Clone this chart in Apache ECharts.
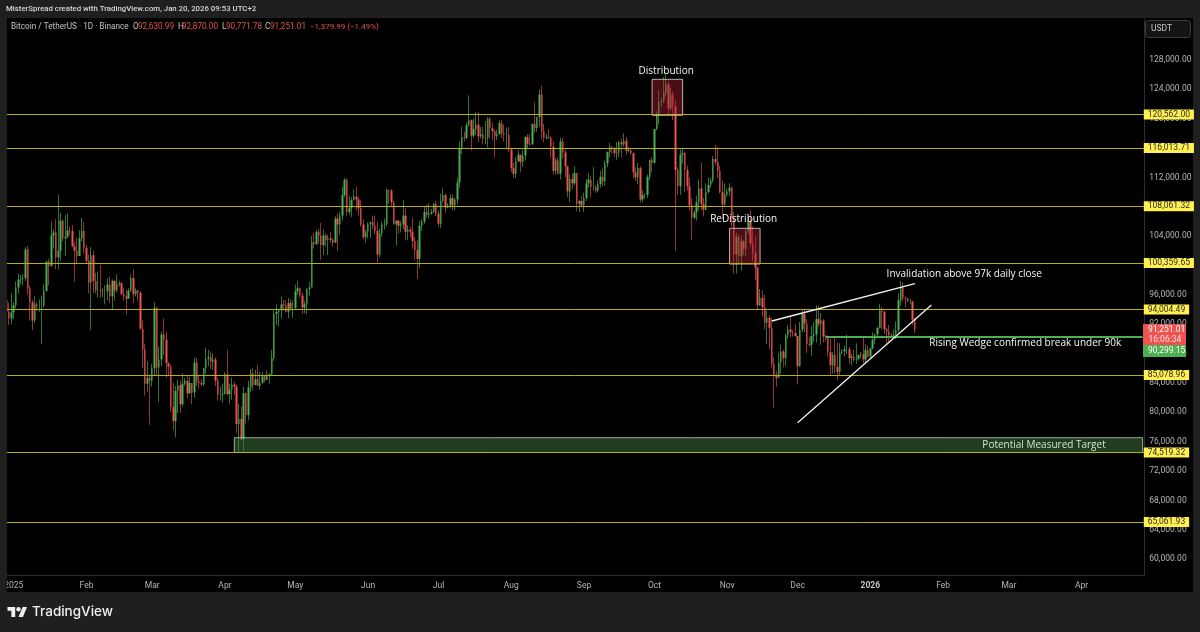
<!DOCTYPE html>
<html><head><meta charset="utf-8"><style>html,body{margin:0;padding:0;background:#1f1f1f}#c{width:1200px;height:632px}</style>
<script src="https://cdn.jsdelivr.net/npm/echarts@6/dist/echarts.min.js"></script></head><body><div id="c"></div><script>
const firstDay = Date.UTC(2024, 11, 29);
const dayCount = 485;
// daily candles, thousands of USDT, Dec 29 2024 -> Jan 20 2026
const opens = [95.3,93.7,92.8,
93.6,94.6,97.0,98.1,98.2,98.3,102.2,96.9,95.0,92.5,94.7,94.5,94.5,94.5,96.5,100.5,99.9,104.1,104.5,101.1,102.0,106.1,103.7,103.9,104.8,104.7,102.6,102.0,101.3,103.7,104.7,
102.4,100.6,97.7,101.4,97.9,96.6,96.6,96.5,96.5,96.5,97.4,95.8,97.9,96.6,97.5,97.6,96.1,95.8,95.5,96.6,98.3,96.1,96.6,96.3,91.4,88.6,83.9,84.7,
84.3,86.0,94.2,86.1,87.2,90.6,89.9,86.7,86.2,80.7,78.8,82.9,83.7,81.1,83.9,84.3,82.6,84.0,82.7,86.8,84.2,84.0,83.8,86.0,87.3,87.5,86.9,87.2,84.3,82.4,82.4,
82.5,85.2,82.5,83.1,83.8,83.5,78.4,79.1,76.3,82.6,79.6,83.4,85.3,83.7,84.5,83.6,84.0,84.9,84.4,85.0,85.2,87.4,93.4,93.7,93.9,94.7,94.6,93.7,94.9,94.2,
94.2,96.5,96.9,95.9,94.3,94.7,96.8,97.0,103.2,102.9,104.6,104.1,102.8,104.1,103.5,103.7,103.5,103.1,106.4,105.6,106.8,109.6,111.7,107.3,107.8,108.9,109.4,109.0,107.8,105.6,103.9,
104.6,105.7,105.9,105.4,104.7,101.5,104.4,105.6,105.7,110.3,110.2,108.6,105.6,106.1,105.4,105.6,106.8,104.6,104.9,104.6,103.3,102.1,100.9,105.4,106.0,107.3,106.9,107.1,107.3,108.4,
107.1,105.7,108.8,109.6,107.9,108.2,109.2,108.2,109.0,111.3,116.0,117.5,117.4,119.1,119.8,117.7,118.6,119.2,117.6,117.9,117.3,117.4,120.0,118.7,118.3,117.6,117.9,119.4,118.0,117.8,117.8,
115.8,113.3,112.5,114.2,115.1,114.1,115.0,117.5,116.6,116.5,119.3,118.7,120.2,123.3,118.3,117.4,117.5,117.4,116.2,112.9,114.3,112.5,116.9,115.4,113.5,110.1,111.8,111.2,112.6,108.4,108.8,
108.2,109.2,111.2,111.7,110.7,110.7,110.2,111.1,112.1,111.5,113.9,115.5,116.1,115.9,115.3,115.4,116.8,116.5,117.0,115.6,115.7,115.3,112.7,112.0,113.3,109.0,109.6,109.6,112.1,114.4,
114.0,118.6,120.6,122.3,122.4,123.5,124.7,121.4,123.3,121.7,113.0,110.8,115.1,115.3,113.0,110.8,108.2,106.5,107.2,108.6,110.5,108.4,107.6,110.0,111.0,111.6,114.5,114.1,112.9,110.0,108.3,
109.6,110.1,110.6,106.5,101.5,103.9,101.3,103.3,102.3,104.7,106.0,103.0,101.7,99.7,94.6,95.6,94.3,92.2,92.9,91.5,86.6,85.1,84.7,86.8,88.3,87.4,90.5,91.3,90.9,90.8,
90.4,86.3,91.3,93.4,92.1,89.3,89.2,90.4,90.6,92.7,92.0,92.5,90.3,90.2,88.2,86.4,87.8,86.2,85.5,88.1,88.3,88.6,88.6,87.4,87.6,87.2,87.3,87.8,87.9,87.2,88.5,
87.6,88.7,89.9,90.6,91.5,93.9,93.7,91.3,91.0,90.5,90.4,90.6,91.2,95.3,97.0,95.6,95.5,95.1,95.1,92.631];
const highs = [95.4,94.9,96.2,
95.0,97.8,98.9,98.7,98.8,102.5,102.7,97.3,95.3,95.8,95.0,95.4,95.9,97.4,100.7,100.9,106.0,104.9,106.3,109.6,107.2,106.3,106.9,107.1,105.3,105.5,103.2,103.8,104.8,106.5,106.0,
102.8,101.5,102.5,102.0,99.0,99.2,100.1,96.9,97.3,98.3,98.5,98.1,98.0,98.8,97.9,97.7,97.0,96.7,96.9,98.8,99.5,96.9,96.7,96.5,92.5,89.3,87.0,85.1,
86.6,95.0,94.4,88.9,91.0,92.8,91.0,86.8,86.5,84.0,83.6,84.4,84.3,85.3,84.7,85.0,84.8,84.0,87.5,87.4,85.0,84.5,86.1,88.8,88.5,88.3,88.0,87.5,84.7,83.5,83.9,
85.5,88.5,83.9,84.7,84.2,83.8,81.2,80.8,83.5,82.7,84.3,85.9,86.1,85.8,86.5,85.5,85.5,85.1,85.7,85.3,88.5,93.9,94.7,94.0,95.8,95.3,95.3,95.6,95.4,95.2,
97.4,97.9,97.0,96.3,95.2,96.9,97.7,104.0,104.4,104.8,105.0,105.8,104.9,104.4,104.2,104.6,103.7,106.7,107.1,107.3,110.7,111.9,111.9,109.5,109.3,110.4,110.7,109.3,108.9,106.3,104.9,
105.9,106.0,106.8,106.8,105.9,105.0,106.0,106.4,110.5,110.4,110.4,108.8,106.2,106.2,106.1,108.9,107.8,105.5,105.3,106.5,103.9,103.4,106.1,106.3,108.1,108.3,108.5,107.7,108.5,108.8,
107.5,109.8,110.5,109.8,108.5,109.7,109.7,109.2,111.9,116.9,118.9,118.2,119.5,123.2,119.9,120.0,120.9,120.9,118.9,118.9,119.7,120.2,120.2,119.5,118.5,118.5,119.8,119.8,119.2,118.8,118.9,
116.0,114.0,114.8,115.7,115.1,115.7,117.6,117.9,117.9,119.3,122.3,120.3,124.0,124.5,119.3,117.9,118.6,117.6,117.0,114.6,114.8,117.4,117.4,115.8,113.6,112.4,112.6,113.5,112.6,108.9,109.5,
109.9,111.8,112.6,112.2,113.4,111.0,111.6,112.9,113.2,114.3,115.5,116.7,116.3,116.1,116.8,117.0,117.3,118.0,117.5,116.1,116.0,115.4,113.4,114.0,113.5,110.3,109.8,112.4,114.4,114.8,
118.6,121.0,123.9,122.9,125.7,126.2,125.1,124.2,123.7,122.5,113.4,115.8,116.0,115.5,113.6,112.0,109.2,107.5,109.5,111.7,114.0,109.2,111.2,112.0,111.9,114.9,116.4,116.1,113.6,111.6,111.2,
110.5,111.2,110.8,107.3,104.5,104.2,104.1,103.5,105.0,106.7,107.5,105.3,104.1,99.8,96.8,96.6,96.0,93.8,93.2,92.8,87.5,85.6,88.1,89.2,88.5,90.7,91.9,93.1,91.2,92.0,
90.4,92.3,94.1,94.1,92.7,90.3,91.8,92.3,94.6,94.5,93.5,92.7,90.6,90.5,90.0,88.2,90.4,89.5,89.4,88.6,89.1,90.6,88.9,88.0,88.5,89.4,87.9,88.2,90.3,89.3,89.1,
88.8,90.9,90.7,91.7,94.8,94.4,93.8,91.5,91.9,90.8,91.3,92.4,96.2,97.9,97.7,95.8,95.6,95.5,95.2,92.87];
const lows = [93.0,91.9,92.0,
92.7,94.2,96.2,97.5,97.3,97.9,96.1,92.5,91.2,92.2,93.8,93.7,89.3,94.3,96.5,97.3,99.9,102.3,99.5,99.5,100.7,103.3,101.3,103.7,104.1,102.5,97.8,100.3,101.3,103.3,101.6,
100.3,96.2,91.2,96.2,96.2,95.7,95.6,95.7,94.7,95.3,94.9,94.1,95.2,96.3,97.1,96.0,95.2,93.3,95.5,96.4,94.9,95.8,95.2,91.2,86.0,82.3,82.8,78.3,
83.5,85.0,85.1,81.4,86.3,87.8,84.7,85.0,80.0,77.5,76.6,79.9,79.9,80.8,83.6,81.9,82.5,81.1,82.0,83.6,83.2,83.6,83.6,85.3,86.3,85.9,85.8,83.6,81.6,81.6,81.3,
82.4,82.3,81.2,81.7,82.4,77.2,74.5,76.2,74.6,78.5,78.9,82.8,83.0,83.7,83.6,83.1,83.9,84.1,84.4,83.9,85.1,87.0,91.9,91.7,92.8,93.9,93.6,92.8,93.9,92.9,
94.1,96.0,95.6,93.4,93.5,93.4,95.9,97.0,102.3,102.8,103.0,100.8,101.4,102.6,101.4,103.1,102.6,103.1,102.0,104.2,106.1,109.3,106.8,106.9,106.6,108.9,107.5,106.8,105.3,103.6,103.1,
103.7,103.7,105.0,104.2,100.4,101.1,103.9,104.9,105.3,108.4,108.1,105.7,102.7,104.3,104.5,105.0,103.4,103.5,103.9,102.3,100.8,98.2,99.6,104.7,105.7,106.6,106.4,106.9,107.2,106.7,
105.2,105.1,108.6,107.2,107.8,107.8,107.5,107.5,108.3,110.6,115.2,116.9,117.2,118.9,115.7,117.4,117.8,116.8,117.3,116.5,116.5,116.1,117.3,117.1,114.7,117.1,117.8,117.4,116.9,115.8,115.5,
112.7,112.0,111.9,114.1,112.7,113.4,114.3,115.9,116.3,116.5,118.1,118.2,118.9,117.2,116.8,117.2,117.2,114.7,112.4,112.4,112.4,111.7,114.6,112.0,109.3,108.7,110.4,110.9,107.4,107.3,108.1,
107.3,108.8,110.6,109.3,110.2,109.9,110.0,110.6,110.8,110.9,113.4,114.7,115.2,114.8,114.4,114.8,114.7,116.2,115.1,115.4,115.1,111.9,111.5,111.1,108.6,108.6,109.1,109.2,111.6,112.7,
113.9,118.4,119.2,121.6,122.1,123.1,120.6,121.1,119.8,102.0,109.6,109.6,113.9,110.0,110.2,107.5,103.5,106.3,106.1,107.5,107.5,106.7,107.5,109.8,110.6,111.3,113.7,111.9,109.8,106.3,108.0,
109.4,109.5,105.3,98.9,98.9,100.3,99.3,101.4,101.3,104.3,102.5,100.6,98.0,94.0,94.5,93.0,91.3,89.3,88.6,86.1,80.6,83.5,84.7,85.3,86.1,86.3,90.0,90.2,90.3,90.3,
83.8,86.2,90.9,90.9,88.1,88.9,87.7,89.6,89.5,91.6,89.2,89.5,89.8,87.6,85.1,85.3,85.3,84.4,85.1,87.9,87.6,87.9,86.6,86.4,86.9,86.6,87.1,87.3,86.7,86.8,87.5,
87.4,88.6,89.3,90.4,91.4,91.3,90.7,89.2,89.6,90.3,90.1,90.0,90.9,94.5,95.1,94.3,95.0,94.7,91.9,90.77];
const closes = [93.7,92.8,93.6,
94.6,97.0,98.1,98.2,98.3,102.2,96.9,95.0,92.5,94.7,94.5,94.5,94.5,96.5,100.5,99.9,104.1,104.5,101.1,102.0,106.1,103.7,103.9,104.8,104.7,102.6,102.0,101.3,103.7,104.7,102.4,
100.6,97.7,101.4,97.9,96.6,96.6,96.5,96.5,96.5,97.4,95.8,97.9,96.6,97.5,97.6,96.1,95.8,95.5,96.6,98.3,96.1,96.6,96.3,91.4,88.6,83.9,84.7,84.3,
86.0,94.2,86.1,87.2,90.6,89.9,86.7,86.2,80.7,78.8,82.9,83.7,81.1,83.9,84.3,82.6,84.0,82.7,86.8,84.2,84.0,83.8,86.0,87.3,87.5,86.9,87.2,84.3,82.4,82.4,82.5,
85.2,82.5,83.1,83.8,83.5,78.4,79.1,76.3,82.6,79.6,83.4,85.3,83.7,84.5,83.6,84.0,84.9,84.4,85.0,85.2,87.4,93.4,93.7,93.9,94.7,94.6,93.7,94.9,94.2,94.2,
96.5,96.9,95.9,94.3,94.7,96.8,97.0,103.2,102.9,104.6,104.1,102.8,104.1,103.5,103.7,103.5,103.1,106.4,105.6,106.8,109.6,111.7,107.3,107.8,108.9,109.4,109.0,107.8,105.6,103.9,104.6,
105.7,105.9,105.4,104.7,101.5,104.4,105.6,105.7,110.3,110.2,108.6,105.6,106.1,105.4,105.6,106.8,104.6,104.9,104.6,103.3,102.1,100.9,105.4,106.0,107.3,106.9,107.1,107.3,108.4,107.1,
105.7,108.8,109.6,107.9,108.2,109.2,108.2,109.0,111.3,116.0,117.5,117.4,119.1,119.8,117.7,118.6,119.2,117.6,117.9,117.3,117.4,120.0,118.7,118.3,117.6,117.9,119.4,118.0,117.8,117.8,115.8,
113.3,112.5,114.2,115.1,114.1,115.0,117.5,116.6,116.5,119.3,118.7,120.2,123.3,118.3,117.4,117.5,117.4,116.2,112.9,114.3,112.5,116.9,115.4,113.5,110.1,111.8,111.2,112.6,108.4,108.8,108.2,
109.2,111.2,111.7,110.7,110.7,110.2,111.1,112.1,111.5,113.9,115.5,116.1,115.9,115.3,115.4,116.8,116.5,117.0,115.6,115.7,115.3,112.7,112.0,113.3,109.0,109.6,109.6,112.1,114.4,114.0,
118.6,120.6,122.3,122.4,123.5,124.7,121.4,123.3,121.7,113.0,110.8,115.1,115.3,113.0,110.8,108.2,106.5,107.2,108.6,110.5,108.4,107.6,110.0,111.0,111.6,114.5,114.1,112.9,110.0,108.3,109.6,
110.1,110.6,106.5,101.5,103.9,101.3,103.3,102.3,104.7,106.0,103.0,101.7,99.7,94.6,95.6,94.3,92.2,92.9,91.5,86.6,85.1,84.7,86.8,88.3,87.4,90.5,91.3,90.9,90.8,90.4,
86.3,91.3,93.4,92.1,89.3,89.2,90.4,90.6,92.7,92.0,92.5,90.3,90.2,88.2,86.4,87.8,86.2,85.5,88.1,88.3,88.6,88.6,87.4,87.6,87.2,87.3,87.8,87.9,87.2,88.5,87.6,
88.7,89.9,90.6,91.5,93.9,93.7,91.3,91.0,90.5,90.4,90.6,91.2,95.3,97.0,95.6,95.5,95.1,95.1,92.6,91.251];
const levels = [120562.00,116013.71,108061.32,100359.65,94004.49,85078.96,74519.32,65061.93];
const supportLevel = 90299.15;
const priceTicks = [60000,64000,68000,72000,76000,80000,84000,88000,92000,96000,100000,104000,108000,112000,116000,120000,124000,128000];
const monthTicks = {'2025-01-01':'2025','2025-02-01':'Feb','2025-03-01':'Mar','2025-04-01':'Apr','2025-05-01':'May','2025-06-01':'Jun','2025-07-01':'Jul','2025-08-01':'Aug','2025-09-01':'Sep','2025-10-01':'Oct','2025-11-01':'Nov','2025-12-01':'Dec','2026-01-01':'2026','2026-02-01':'Feb','2026-03-01':'Mar','2026-04-01':'Apr'};

const categories = [];
for (let i = 0; i < dayCount; i++) categories.push(new Date(firstDay + i * 864e5).toISOString().slice(0, 10));
const lastDay = categories[categories.length - 1];
const fmt = v => v.toLocaleString('en-US', {minimumFractionDigits: 2, maximumFractionDigits: 2});
const fullData = opens.map((o, i) => [o * 1000, closes[i] * 1000, lows[i] * 1000, highs[i] * 1000]);
const bodyData = opens.map((o, i) => [o * 1000, closes[i] * 1000, Math.min(o, closes[i]) * 1000, Math.max(o, closes[i]) * 1000]);

const FONT = 'Roboto';
const ANN = 'Open Sans';
const note = (text, date, value, color) => ({coord: [date, value], symbolSize: 0, label: {show: true, position: 'inside', formatter: text, color: color || '#f6f6f6', fontFamily: ANN, fontSize: 10, fontWeight: 500}});
const zoneBorder = 'rgba(214,205,205,0.85)';
const distStyle = {color: 'rgba(178,34,52,0.42)', borderColor: zoneBorder, borderWidth: 1};

const chart = echarts.init(document.getElementById('c'), null, {renderer: 'canvas', width: 1200, height: 632});
const txt = (x, y, text, color, size, family, extra) => Object.assign({type: 'text', x, y, z: 20, silent: true, style: Object.assign({text, fill: color, fontSize: size, fontFamily: family || FONT, verticalAlign: 'middle'}, extra || {})});
const red = '#e0524f';
const logoT = {x: 7.5, y: 604.8, scaleX: 0.55, scaleY: 0.55, z: 20, silent: true};
chart.setOption({
  animation: false,
  backgroundColor: '#1f1f1f',
  grid: {left: 5.5, top: 19, width: 1138.3, height: 556, show: true, backgroundColor: '#000', borderWidth: 0},
  xAxis: {type: 'category', data: categories, boundaryGap: true,
    axisLine: {show: true, lineStyle: {color: '#2a2d36'}}, axisTick: {show: false}, splitLine: {show: false},
    axisLabel: {interval: (i, v) => !!monthTicks[v], formatter: v => v === '2026-01-01' ? '{b|2026}' : (monthTicks[v] || ''), rich: {b: {fontWeight: 'bold', color: '#c8c8c8', fontFamily: FONT, fontSize: 8.5}}, color: '#b5b5b5', fontFamily: FONT, fontSize: 8.5, margin: 6, hideOverlap: false}},
  yAxis: {type: 'value', position: 'right', min: 57837, max: 133586, scale: true,
    axisLine: {show: true, lineStyle: {color: '#2a2d36'}}, axisTick: {show: false}, splitLine: {show: false},
    axisLabel: {customValues: priceTicks, formatter: v => fmt(v), color: '#b5b5b5', fontFamily: FONT, fontSize: 8.5, margin: 5.5}},
  series: [
    {type: 'candlestick', name: 'wicks', data: fullData, barWidth: 1, clip: true,
      itemStyle: {color: '#2c7a31', color0: '#8f3534', borderColor: '#2c7a31', borderColor0: '#8f3534', borderWidth: 1},
      markArea: {silent: true, z: 3, data: [
        [{coord: ['2025-09-30', 125371], itemStyle: distStyle}, {coord: ['2025-10-13', 120466]}],
        [{coord: ['2025-11-02', 105071], itemStyle: distStyle}, {coord: ['2025-11-15', 100207]}],
        [{coord: ['2025-04-05', 76542], itemStyle: {color: 'rgba(58,112,58,0.55)', borderColor: 'rgba(190,205,190,0.8)', borderWidth: 1}}, {coord: [lastDay, 74519]}]
      ]}},
    {type: 'candlestick', name: 'BTCUSDT', data: bodyData, barWidth: 2, clip: true,
      itemStyle: {color: '#4caf50', color0: '#ef5350', borderColor: '#4caf50', borderColor0: '#ef5350', borderWidth: 0},
      markLine: {silent: true, symbol: ['none', 'none'], precision: 2, data: levels.map(v => ({yAxis: v,
          lineStyle: {color: '#bcae0c', width: 1, type: 'solid'},
          label: {show: true, position: 'end', distance: 0, formatter: fmt(v), color: '#2a2a2a', backgroundColor: '#fff04f', fontFamily: FONT, fontSize: 8.5, lineHeight: 9, padding: [1, 4, 0, 4]}}))
        .concat([
          [{coord: ['2025-12-13', supportLevel], lineStyle: {color: '#4caf50', width: 2, type: 'solid'}, label: {show: false}}, {coord: [lastDay, supportLevel]}],
          [{coord: ['2025-11-20', 92442], lineStyle: {color: '#f2f2f2', width: 1.3, type: 'solid'}, label: {show: false}}, {coord: ['2026-01-20', 97523]}],
          [{coord: ['2025-12-01', 78586], lineStyle: {color: '#f2f2f2', width: 1.3, type: 'solid'}, label: {show: false}}, {coord: ['2026-01-27', 94621]}]
        ])},
      markPoint: {silent: true, symbol: 'circle', symbolSize: 0, data: [
        note('Distribution', '2025-10-06', 126500),
        note('ReDistribution', '2025-11-08', 106338),
        note('Invalidation above 97k daily close', '2026-02-10', 98844),
        note('Rising Wedge confirmed break under 90k', '2026-03-08', 89443),
        note('Potential Measured Target', '2026-03-16', 75546, '#cfe6cf')
      ]}}
  ],
  graphic: {elements: [
    {type: 'rect', z: -1, silent: true, shape: {x: 7, y: 18, width: 1186, height: 574}, style: {fill: '#000'}},
    {type: 'rect', z: 15, silent: true, shape: {x: 0, y: 18, width: 7, height: 574}, style: {fill: '#1f1f1f'}},
    {type: 'rect', z: 20, silent: true, shape: {x: 1145.5, y: 20.5, width: 45, height: 17, r: 3}, style: {fill: '#141414', stroke: '#3d3d3d', lineWidth: 1}},
    txt(1151, 29, 'USDT', '#c8c8c8', 8.5),
    txt(6, 9, 'MisterSpread created with TradingView.com, Jan 20, 2026 09:53 UTC+2', '#d6d6d6', 7.8, FONT, {fontWeight: 500}),
    txt(11, 27, 'Bitcoin / TetherUS · 1D · Binance', '#c4c4c4', 8.2),
    txt(133, 27, 'O', '#c4c4c4', 8.2), txt(138, 27, '92,630.99', red, 8.2),
    txt(178, 27, 'H', '#c4c4c4', 8.2), txt(182, 27, '92,870.00', red, 8.2),
    txt(222, 27, 'L', '#c4c4c4', 8.2), txt(226, 27, '90,771.78', red, 8.2),
    txt(265, 27, 'C', '#c4c4c4', 8.2), txt(270, 27, '91,251.01', red, 8.2),
    txt(310, 27, '−1,379.99 (−1.49%)', red, 8),
    {type: 'rect', z: 20, silent: true, shape: {x: 1143, y: 324, width: 43, height: 21}, style: {fill: '#ef5350'}},
    txt(1148, 329.5, '91,251.01', '#fff', 8.5), txt(1148.5, 339.5, '16:06:34', '#fde0e0', 8.5),
    {type: 'rect', z: 20, silent: true, shape: {x: 1143, y: 345, width: 43, height: 12}, style: {fill: '#4caf50'}},
    txt(1148, 351, '90,299.15', '#fff', 8.5),
    Object.assign({type: 'polygon', shape: {points: [[0,4],[14,4],[14,22],[7,22],[7,11],[0,11]]}, style: {fill: '#efefef'}}, logoT),
    Object.assign({type: 'polygon', shape: {points: [[20,22],[27.5,4],[35.5,4],[28,22]]}, style: {fill: '#efefef'}}, logoT),
    Object.assign({type: 'circle', shape: {cx: 20, cy: 8, r: 4}, style: {fill: '#efefef'}}, logoT),
    txt(32, 612, 'TradingView', '#efefef', 13.5, 'Inter', {fontWeight: 500})
  ]}
});
</script></body></html>
